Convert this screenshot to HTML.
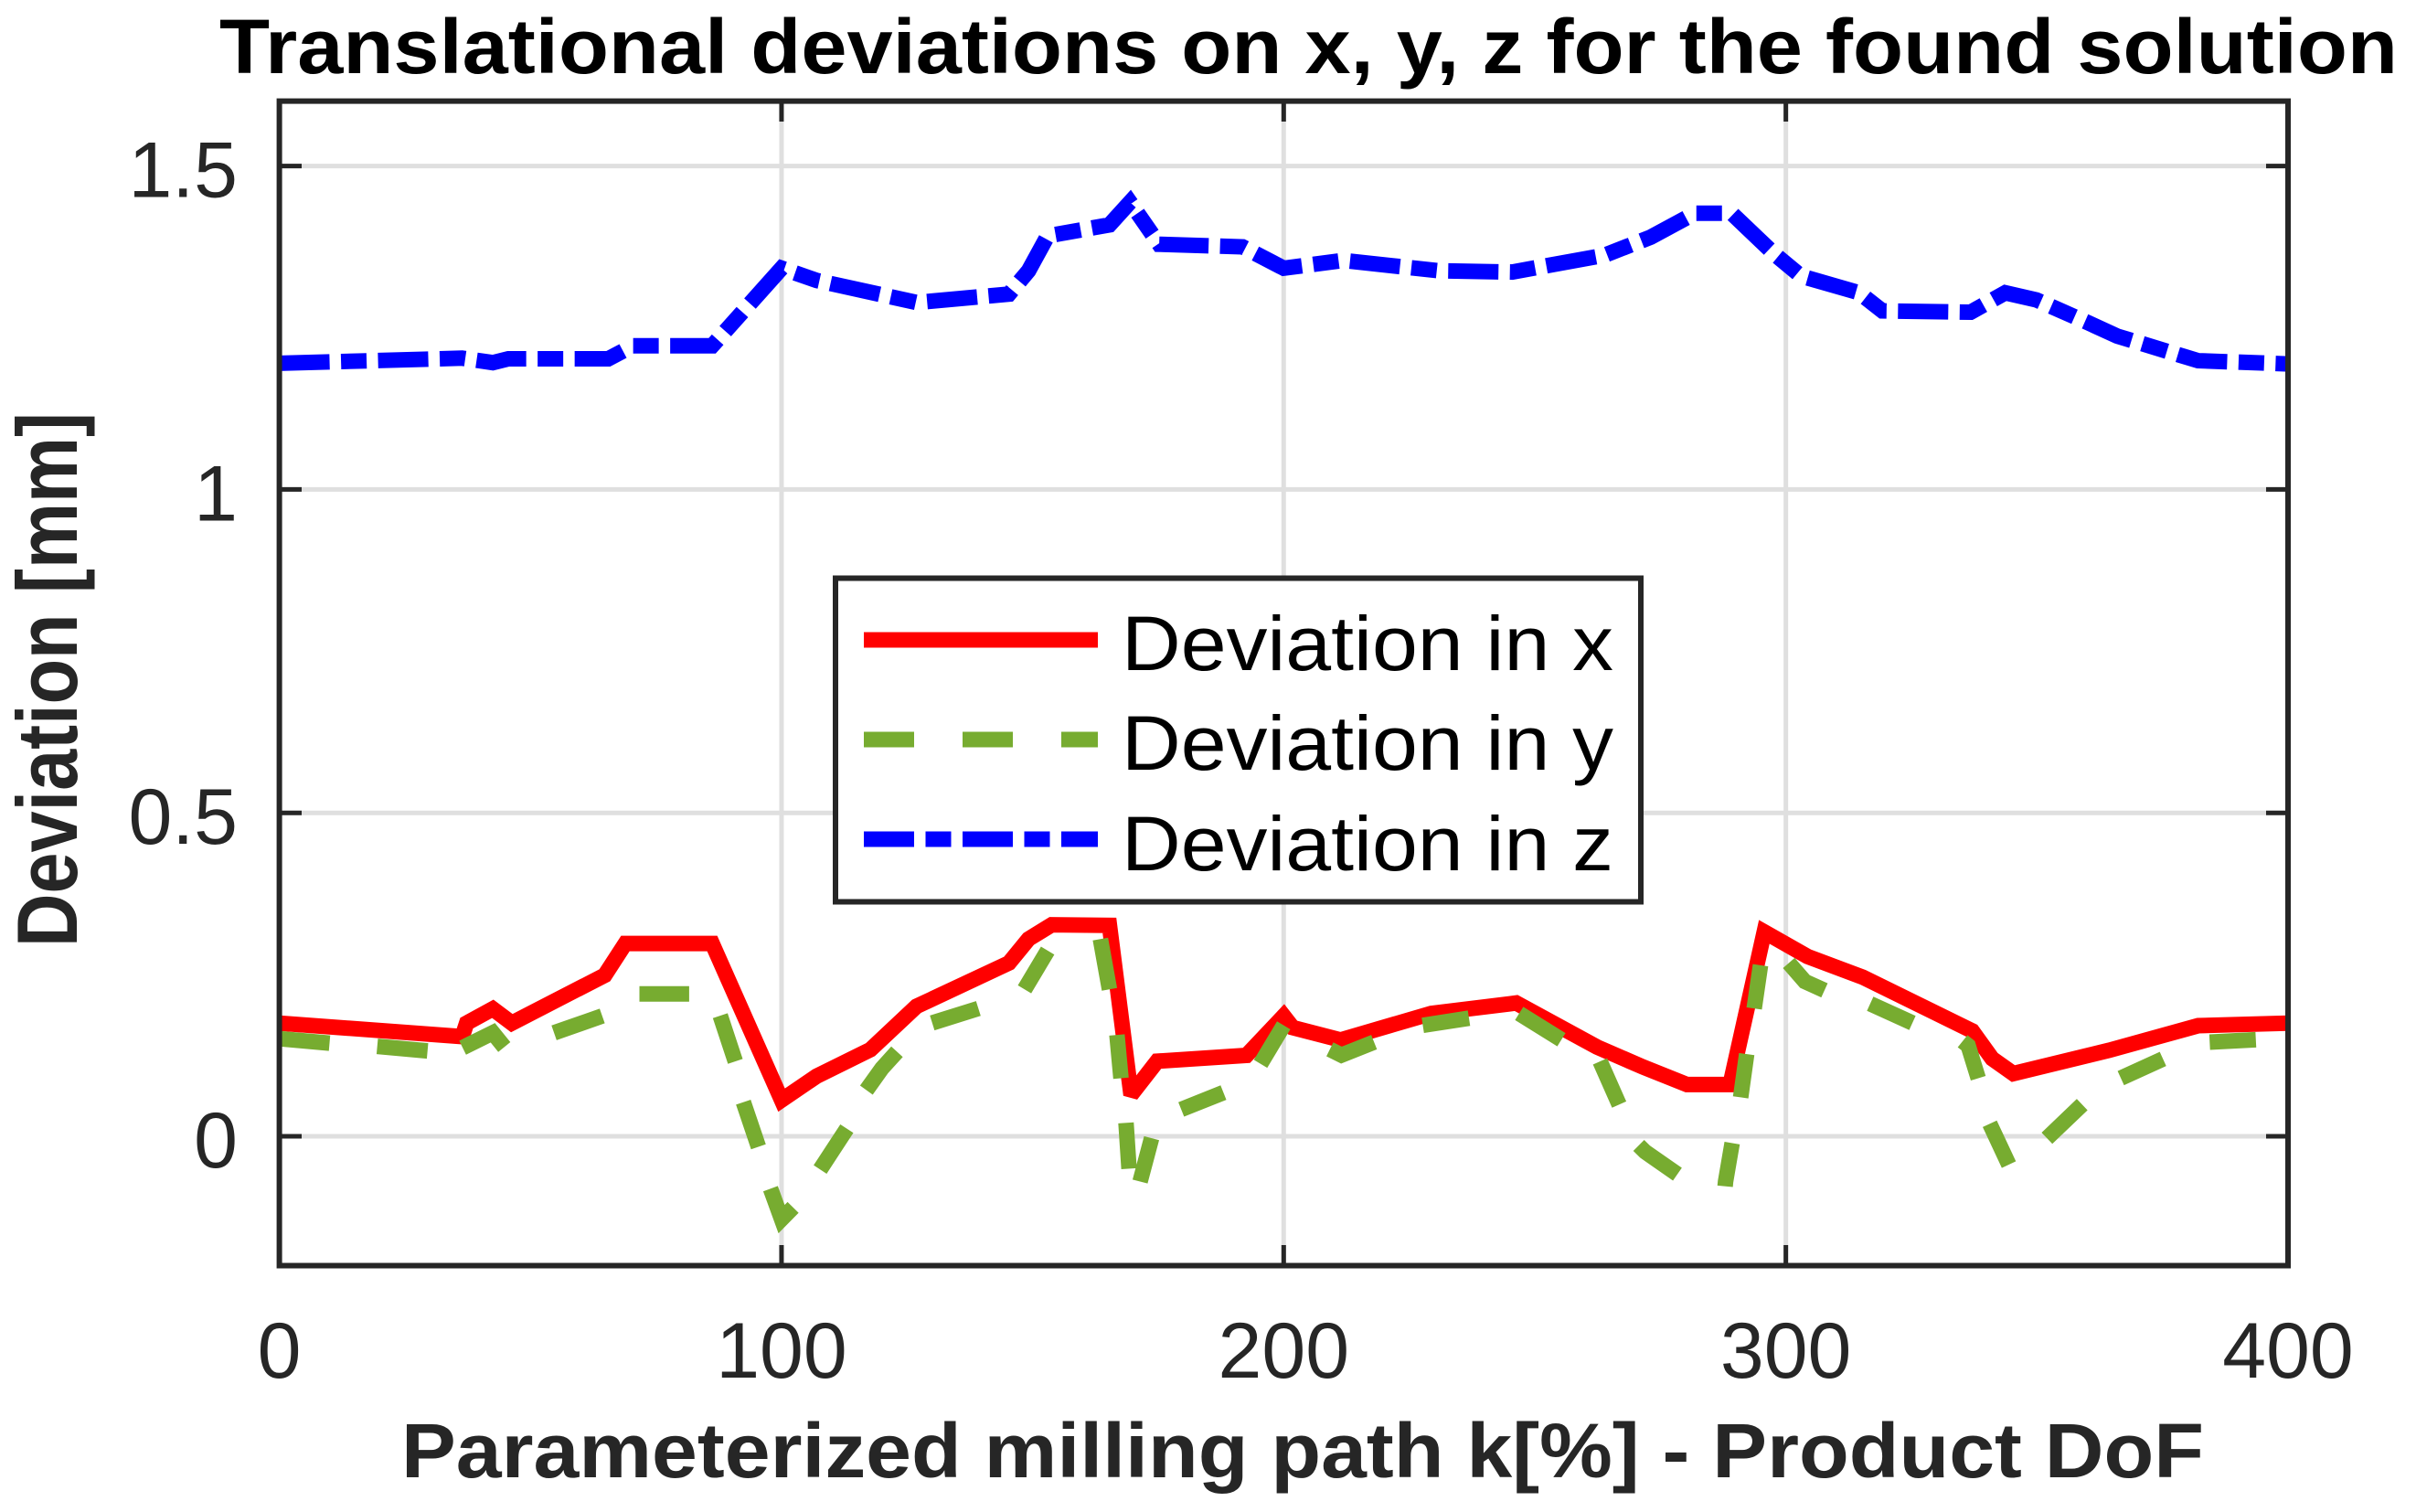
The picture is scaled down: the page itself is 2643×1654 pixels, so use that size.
<!DOCTYPE html>
<html lang="en">
<head>
<meta charset="utf-8">
<title>Translational deviations on x, y, z for the found solution</title>
<style>
html,body{margin:0;padding:0;background:#fff;width:2643px;height:1654px;overflow:hidden}
svg{display:block;font-family:"Liberation Sans",Arial,sans-serif}
</style>
</head>
<body>
<svg id="chart" xmlns="http://www.w3.org/2000/svg" width="2643" height="1654" viewBox="0 0 2643 1654">
<defs><clipPath id="plot-clip"><rect x="305.6" y="110.6" width="2197.4" height="1273.9"/></clipPath></defs>
<rect x="0" y="0" width="2643" height="1654" fill="#fff"/>
<text x="240" y="80" font-size="84" font-weight="700" fill="#000" textLength="2383" lengthAdjust="spacingAndGlyphs">Translational deviations on x, y, z for the found solution</text>
<g id="grid"></g>
<g id="series" clip-path="url(#plot-clip)"></g>
<g id="axes"></g>
<text x="439" y="1616" font-size="84" font-weight="700" fill="#262626" textLength="1972" lengthAdjust="spacingAndGlyphs">Parameterized milling path k[%] - Product DoF</text>
<text transform="translate(84,1036) rotate(-90)" x="0" y="0" font-size="94" font-weight="700" fill="#262626" textLength="585" lengthAdjust="spacingAndGlyphs">Deviation [mm]</text>
<g>
  <rect x="914" y="632.5" width="881" height="354" fill="#fff" stroke="#262626" stroke-width="6"/>
  <line x1="945" y1="700" x2="1201" y2="700" stroke="#ff0000" stroke-width="17"/>
  <line x1="945" y1="809" x2="1201" y2="809" stroke="#77ac30" stroke-width="17" stroke-dasharray="55 53"/>
  <line x1="945" y1="918" x2="1201" y2="918" stroke="#0000ff" stroke-width="17" stroke-dasharray="55 12.5 28 12.5"/>
  <text x="1227" y="733" font-size="84" fill="#000" textLength="538" lengthAdjust="spacingAndGlyphs">Deviation in x</text>
  <text x="1227" y="842" font-size="84" fill="#000" textLength="538" lengthAdjust="spacingAndGlyphs">Deviation in y</text>
  <text x="1227" y="952" font-size="84" fill="#000" textLength="538" lengthAdjust="spacingAndGlyphs">Deviation in z</text>
</g>
<script>
var xTickValues = [0, 100, 200, 300, 400];
var xTickLabels = ["0", "100", "200", "300", "400"];
var yTickValues = [0, 0.5, 1, 1.5];
var yTickLabels = ["0", "0.5", "1", "1.5"];

var redK = [0, 36.4, 37.3, 42.5, 46.3, 64.8, 68.9, 86.2, 100, 107, 117.7, 126.9, 145.3, 149.2, 153.8, 165.3, 169.6, 174.8, 192.6, 200, 201.8, 211.3, 229.4, 246.3, 262.4, 271.6, 280.3, 288.9, 295.7, 304.3, 315.3, 337.1, 341.1, 345.3, 364.4, 382.1, 400];
var deviationX = [0.175, 0.154, 0.175, 0.197, 0.175, 0.249, 0.298, 0.298, 0.056, 0.093, 0.134, 0.201, 0.268, 0.305, 0.327, 0.326, 0.064, 0.116, 0.125, 0.186, 0.168, 0.149, 0.19, 0.206, 0.138, 0.107, 0.08, 0.08, 0.316, 0.278, 0.246, 0.163, 0.12, 0.097, 0.133, 0.171, 0.175];

/* null marks a break between the visible dashes of the y series */
var greenK = [0, 10, null, 19.5, 29.5, null, 36.5, 42.5, 44.8, null, 54.7, 64.3, null, 71.7, 81.6, null, 87.8, 90.8, null, 92.4, 95.4, null, 97.8, 100, 102.3, null, 107.7, 113, null, 116.9, 120, 123, null, 130, 139.2, null, 148.4, 153, null, 163.5, 165.3, null, 166.8, 167.6, null, 168.6, 169.2, null, 171.4, 173.7, null, 179.6, 188, null, 195.4, 200, null, 209.2, 211.5, 218, null, 227.7, 236.9, null, 246.9, 255.3, null, 263, 266.8, null, 270.7, 272, 278.4, null, 287.9, 288, 289.3, null, 291, 292.2, null, 293.7, 294.95, null, 300.6, 303.8, 307.7, null, 316.8, 325.2, null, 335.2, 336.3, 338.3, null, 340.6, 344.4, null, 352, 359, null, 366.7, 375.1, null, 384.4, 393.6];
var deviationY = [0.151, 0.144, null, 0.139, 0.132, null, 0.137, 0.16, 0.138, null, 0.16, 0.186, null, 0.22, 0.22, null, 0.1864, 0.1158, null, 0.0527, -0.0163, null, -0.081, -0.128, -0.11, null, -0.0513, 0.0119, null, 0.0713, 0.105, 0.1307, null, 0.1752, 0.1975, null, 0.2272, 0.287, null, 0.305, 0.2272, null, 0.1567, 0.0898, null, 0.0208, -0.05, null, -0.07, -0.003, null, 0.0416, 0.0675, null, 0.1121, 0.1715, null, 0.1344, 0.1255, 0.1455, null, 0.1715, 0.1826, null, 0.19, 0.1492, null, 0.1158, 0.049, null, -0.0141, -0.024, -0.0587, null, -0.0773, -0.07, -0.0104, null, 0.0602, 0.127, null, 0.1975, 0.2644, null, 0.268, 0.2393, 0.2256, null, 0.2049, 0.1752, null, 0.147, 0.14, 0.0898, null, 0.0193, -0.0438, null, -0.003, 0.049, null, 0.0899, 0.1196, null, 0.1455, 0.1493];

var blueK = [0, 36.4, 42.5, 45.6, 65.5, 70.4, 86.2, 100, 107, 126.9, 145.3, 149.2, 153, 165.3, 169.4, 175.2, 191.8, 200, 211.8, 230.9, 245.5, 263.9, 273.1, 281.9, 289.2, 297.7, 303, 314.6, 319.2, 336.8, 343.7, 349.9, 359.8, 366, 382.1, 400];
var deviationZ = [1.195, 1.203, 1.196, 1.202, 1.202, 1.222, 1.222, 1.342, 1.323, 1.289, 1.302, 1.338, 1.392, 1.409, 1.444, 1.379, 1.375, 1.342, 1.354, 1.338, 1.336, 1.362, 1.39, 1.427, 1.427, 1.364, 1.33, 1.304, 1.276, 1.274, 1.304, 1.293, 1.259, 1.237, 1.199, 1.194];

var SVG_NS = "http://www.w3.org/2000/svg";
function xAxis(v) { return 305.6 + (v / 400) * 2197.4; }
function yAxis(v) { return 1243 - v * 707.6; }
function makeLine(x1, y1, x2, y2, color, width) {
  var el = document.createElementNS(SVG_NS, "line");
  el.setAttribute("x1", x1);
  el.setAttribute("y1", y1);
  el.setAttribute("x2", x2);
  el.setAttribute("y2", y2);
  el.setAttribute("stroke", color);
  el.setAttribute("stroke-width", width);
  return el;
}
function makeLabel(x, y, text, anchor) {
  var el = document.createElementNS(SVG_NS, "text");
  el.setAttribute("x", x);
  el.setAttribute("y", y);
  el.setAttribute("font-size", "86");
  el.setAttribute("fill", "#262626");
  el.setAttribute("text-anchor", anchor);
  el.textContent = text;
  return el;
}
var gridGroup = document.getElementById("grid");
var axesGroup = document.getElementById("axes");
var seriesGroup = document.getElementById("series");

xTickValues.forEach(function (v, i) {
  var px = xAxis(v);
  if (v > 0 && v < 400) {
    var g = makeLine(px, 110.6, px, 1384.5, "#dfdfdf", 5);
    
    
    gridGroup.appendChild(g);
    var t1 = makeLine(px, 110.6, px, 133, "#262626", 5);
    
    
    axesGroup.appendChild(t1);
    var t2 = makeLine(px, 1384.5, px, 1362, "#262626", 5);
    
    
    axesGroup.appendChild(t2);
  }
  var lx = makeLabel(px, 1507, xTickLabels[i], "middle");
  
  
  axesGroup.appendChild(lx);
});
yTickValues.forEach(function (v, i) {
  var py = yAxis(v);
  var g = makeLine(305.6, py, 2503, py, "#dfdfdf", 5);
  
  
  gridGroup.appendChild(g);
  var t1 = makeLine(305.6, py, 330, py, "#262626", 5);
  
  
  axesGroup.appendChild(t1);
  var t2 = makeLine(2503, py, 2479, py, "#262626", 5);
  
  
  axesGroup.appendChild(t2);
  var ly = makeLabel(260, py + 34, yTickLabels[i], "end");
  
  
  axesGroup.appendChild(ly);
});
var box = document.createElementNS(SVG_NS, "rect");
box.setAttribute("x", 305.6);
box.setAttribute("y", 110.6);
box.setAttribute("width", 2197.4);
box.setAttribute("height", 1273.9);
box.setAttribute("fill", "none");
box.setAttribute("stroke", "#262626");
box.setAttribute("stroke-width", "6");


axesGroup.appendChild(box);

function makeSeries(xs, ys, color, dash) {
  var d = "";
  var penDown = false;
  xs.forEach(function (x, i) {
    if (x === null || ys[i] === null) { penDown = false; return; }
    d += (penDown ? "L" : "M") + xAxis(x).toFixed(1) + " " + yAxis(ys[i]).toFixed(1);
    penDown = true;
  });
  var el = document.createElementNS(SVG_NS, "path");
  el.setAttribute("d", d);
  el.setAttribute("fill", "none");
  el.setAttribute("stroke", color);
  el.setAttribute("stroke-width", "17");
  el.setAttribute("stroke-linejoin", "miter");
  el.setAttribute("stroke-miterlimit", "2");
  if (dash) el.setAttribute("stroke-dasharray", dash);
  return el;
}
var lineX = makeSeries(redK, deviationX, "#ff0000", "");


seriesGroup.appendChild(lineX);
var lineY = makeSeries(greenK, deviationY, "#77ac30", "");


seriesGroup.appendChild(lineY);
var lineZ = makeSeries(blueK, deviationZ, "#0000ff", "55 12.5 28 12.5");


seriesGroup.appendChild(lineZ);
</script>
</svg>
</body>
</html>
